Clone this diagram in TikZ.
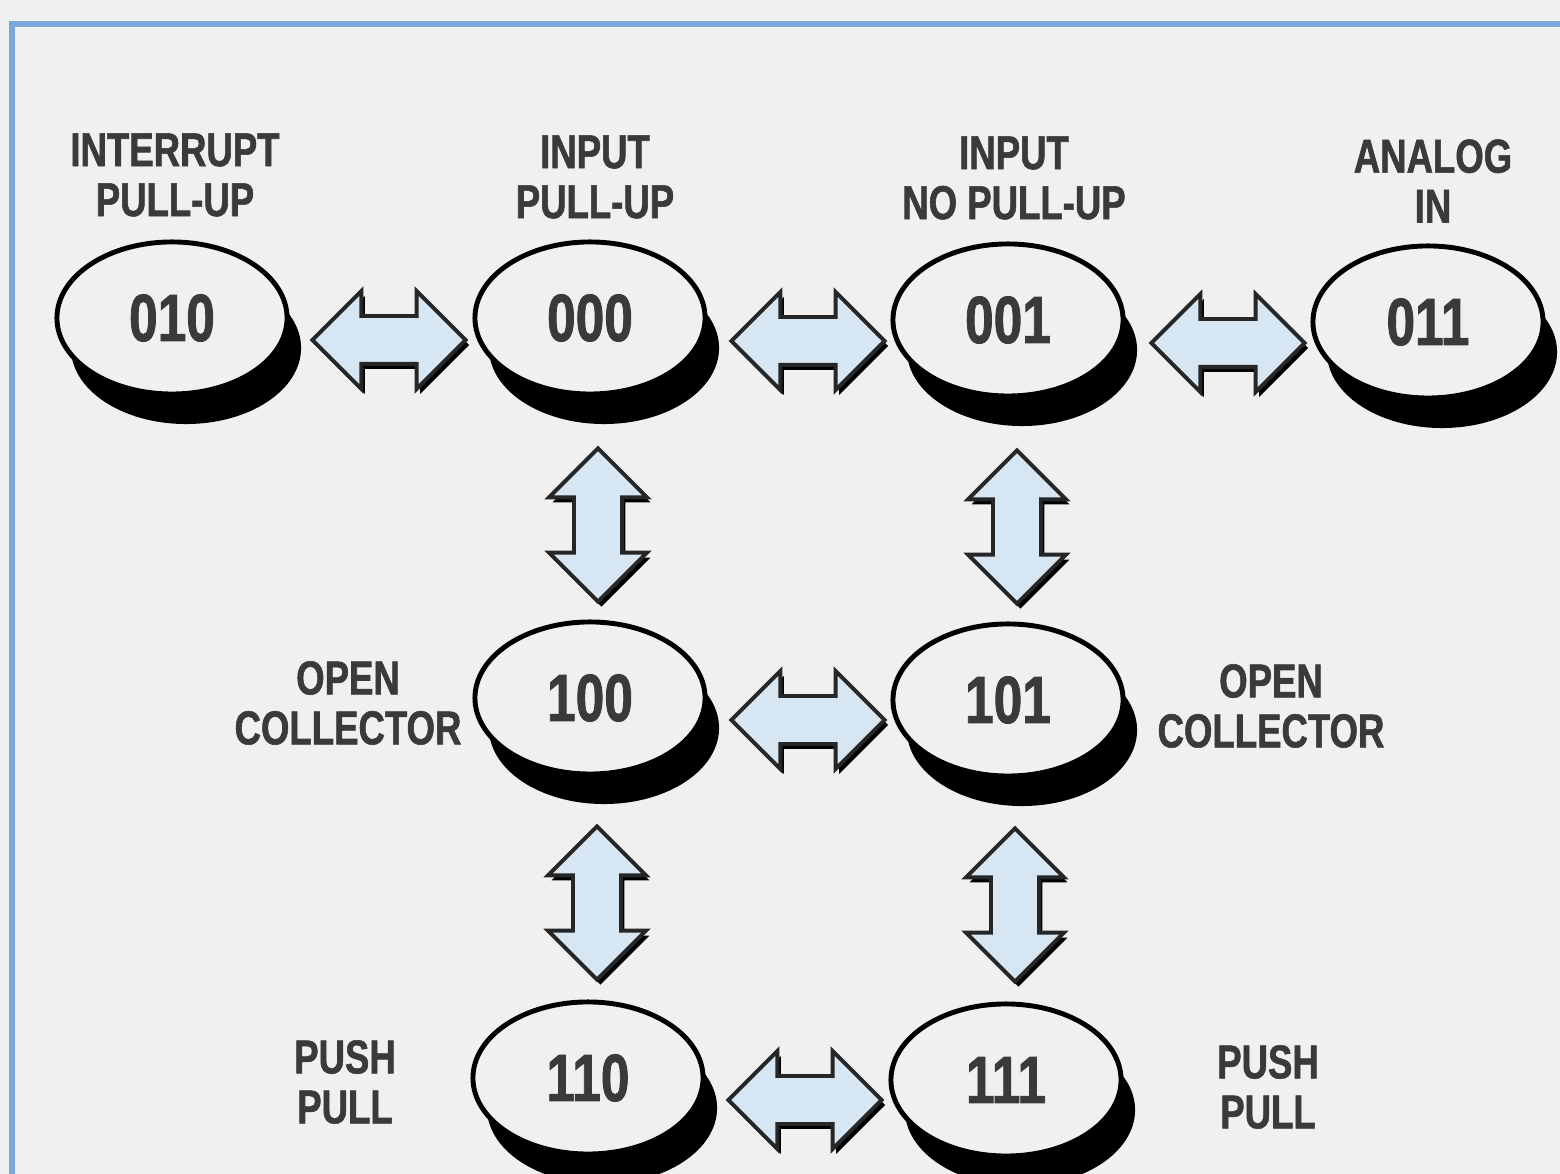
\documentclass[tikz,border=0pt]{standalone}
\usepackage{fontspec}
\usepackage{xcolor}
\usepackage{tikz}
\usetikzlibrary{shapes.geometric,shapes.arrows,shadows,calc}

\newfontfamily\capsfont[FakeStretch=0.77,FakeBold=1.2]{Liberation Sans Bold}

\definecolor{pagegray}{HTML}{F0F0F0}
\definecolor{inkgray}{HTML}{3A3A3A}
\definecolor{frameblue}{HTML}{78A8DC}
\definecolor{arrowblue}{HTML}{D6E6F2}

\tikzset{
  modebox/.style={ellipse,draw=black,line width=1.4pt,fill=pagegray,
    minimum width=2.30cm,minimum height=1.52cm,inner sep=0pt,
    text=inkgray,font=\capsfont\fontsize{19}{19}\selectfont,
    drop shadow={shadow xshift=0.14cm,shadow yshift=-0.30cm,opacity=1,fill=black}},
  modelabel/.style={align=center,text=inkgray,
    font=\capsfont\fontsize{13.5}{14.2}\selectfont},
  twoway/.style={double arrow,double arrow tip angle=90,
    double arrow head extend=0.25cm,minimum height=1.53cm,
    inner xsep=0pt,inner ysep=0.22cm,text height=0pt,text depth=0pt,
    fill=arrowblue,draw=black!85,line width=1.1pt,
    drop shadow={shadow xshift=0.035cm,shadow yshift=-0.05cm,opacity=1,fill=black}}
}

\begin{document}
\begin{tikzpicture}[x=0.01cm,y=-0.01cm]
    \useasboundingbox (0,0) rectangle (1560,1174);
    \fill[pagegray] (0,0) rectangle (1560,1174);
    % frame lines along the top and left edges
    \draw[frameblue,line width=1.5pt] (12,1174) -- (12,24) -- (1560,24);

    % the eight mode discs
    \node[modebox] (n010) at (172,318) {010};
    \node[modebox] (n000) at (590,318) {000};
    \node[modebox] (n001) at (1008,320) {001};
    \node[modebox] (n011) at (1428,322) {011};
    \node[modebox] (n100) at (590,698) {100};
    \node[modebox] (n101) at (1008,700) {101};
    \node[modebox] (n110) at (588,1078) {110};
    \node[modebox] (n111) at (1006,1080) {111};

    % mode names
    \node[modelabel] (t010) at (175,175) {INTERRUPT\\PULL-UP};
    \node[modelabel] (t000) at (595,177) {INPUT\\PULL-UP};
    \node[modelabel] (t001) at (1014,178) {INPUT\\NO PULL-UP};
    \node[modelabel] (t011) at (1433,181) {ANALOG\\IN};
    \node[modelabel] (t100) at (348,703) {OPEN\\COLLECTOR};
    \node[modelabel] (t101) at (1271,706) {OPEN\\COLLECTOR};
    \node[modelabel] (t110) at (345,1082) {PUSH\\PULL};
    \node[modelabel] (t111) at (1268,1087) {PUSH\\PULL};

    % two-way block arrows between neighbouring modes
    \node[twoway] (a1) at ($(n010)!0.5!(n000)+(8,22)$) {};
    \node[twoway] (a2) at ($(n000)!0.5!(n001)+(9,22)$) {};
    \node[twoway] (a3) at ($(n001)!0.5!(n011)+(10,22)$) {};
    \node[twoway] (a4) at ($(n100)!0.5!(n101)+(9,21)$) {};
    \node[twoway] (a5) at ($(n110)!0.5!(n111)+(8,21)$) {};
    \node[twoway,rotate=90] (b1) at ($(n000)!0.5!(n100)+(8,17)$) {};
    \node[twoway,rotate=90] (b2) at ($(n001)!0.5!(n101)+(9,17)$) {};
    \node[twoway,rotate=90] (b3) at ($(n100)!0.5!(n110)+(8,15)$) {};
    \node[twoway,rotate=90] (b4) at ($(n101)!0.5!(n111)+(8,15)$) {};
\end{tikzpicture}
\end{document}
